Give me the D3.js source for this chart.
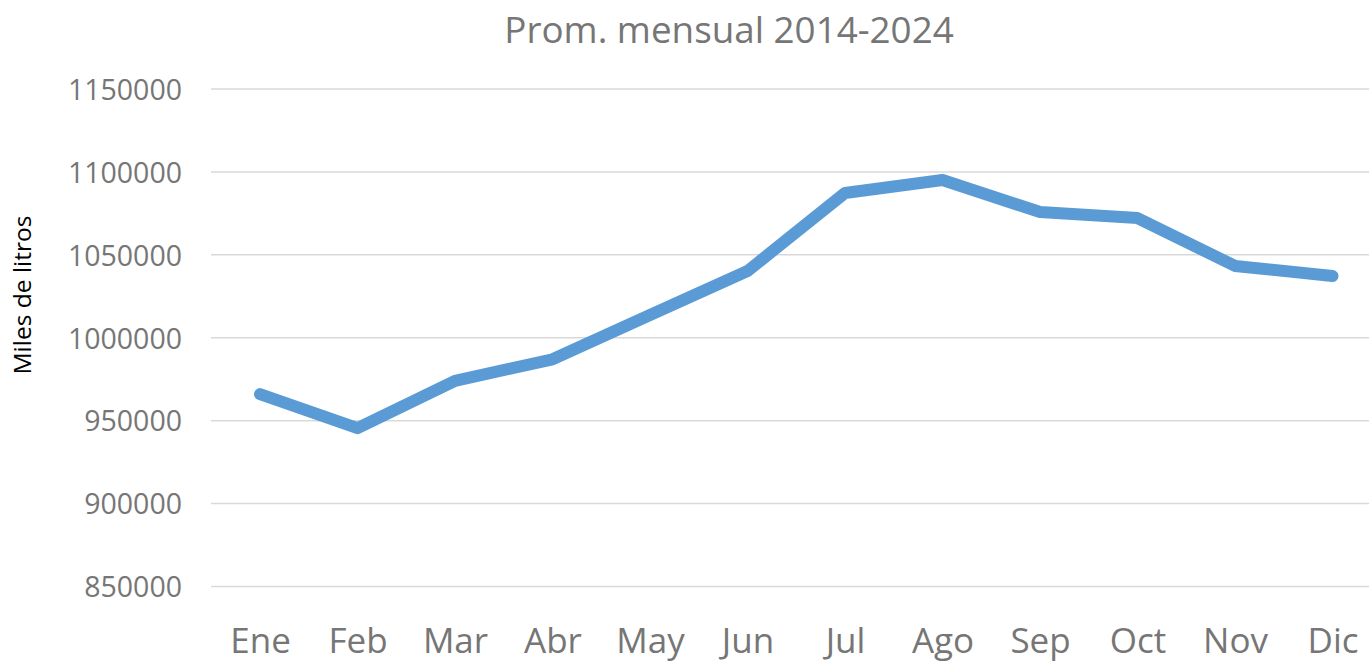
<!DOCTYPE html>
<html><head><meta charset="utf-8">
<script src="https://cdn.jsdelivr.net/npm/d3@7"></script>
<style>body{margin:0;background:#fff;overflow:hidden}</style>
</head><body>
<svg id="c" width="1369" height="661"></svg>
<script>
const months = ["Ene","Feb","Mar","Abr","May","Jun","Jul","Ago","Sep","Oct","Nov","Dic"];
const values = [966000,945500,974000,987000,1013700,1040200,1087300,1095100,1075800,1072200,1043300,1037200];
const yTicks = [850000,900000,950000,1000000,1050000,1100000,1150000];
const title = "Prom. mensual 2014-2024";
const yTitle = "Miles de litros";

const svg = d3.select("#c");
const font = "'Open Sans', sans-serif";
const x = d3.scalePoint().domain(months).range([211.25, 1381.25]).padding(0.5);
const y = d3.scaleLinear().domain([850000,1150000]).range([586.5, 89]);

svg.append("g").selectAll("line").data(yTicks).join("line")
  .attr("x1",211).attr("x2",1369)
  .attr("y1",d=>y(d)).attr("y2",d=>y(d))
  .attr("stroke","#d9d9d9").attr("stroke-width",1.5);

const ya = svg.append("g").attr("transform","translate(182,0)")
  .call(d3.axisLeft(y).tickValues(yTicks).tickSize(0).tickPadding(0).tickFormat(d3.format("d")));
ya.select(".domain").remove();
ya.selectAll("text").attr("font-family",font).attr("font-size",28.5).attr("fill","#767676").attr("dy","0.36em");

const xa = svg.append("g").attr("transform","translate(0,653)")
  .call(d3.axisBottom(x).tickSize(0).tickPadding(0));
xa.select(".domain").remove();
xa.selectAll("text").attr("font-family",font).attr("font-size",35).attr("fill","#767676").attr("dy","0");

svg.append("path").datum(values.map((v,i)=>[months[i],v]))
  .attr("fill","none").attr("stroke","#5b9bd5").attr("stroke-width",12)
  .attr("stroke-linecap","round").attr("stroke-linejoin","round")
  .attr("d", d3.line().x(d=>x(d[0])).y(d=>y(d[1])));

svg.append("text").attr("x",729).attr("y",43).attr("text-anchor","middle")
  .attr("font-family",font).attr("font-size",36.8).attr("fill","#767676").text(title);

svg.append("text").attr("transform","translate(31,295) rotate(-90)").attr("text-anchor","middle")
  .attr("font-family",font).attr("font-size",24.5).attr("fill","#000").text(yTitle);
</script>
</body></html>
